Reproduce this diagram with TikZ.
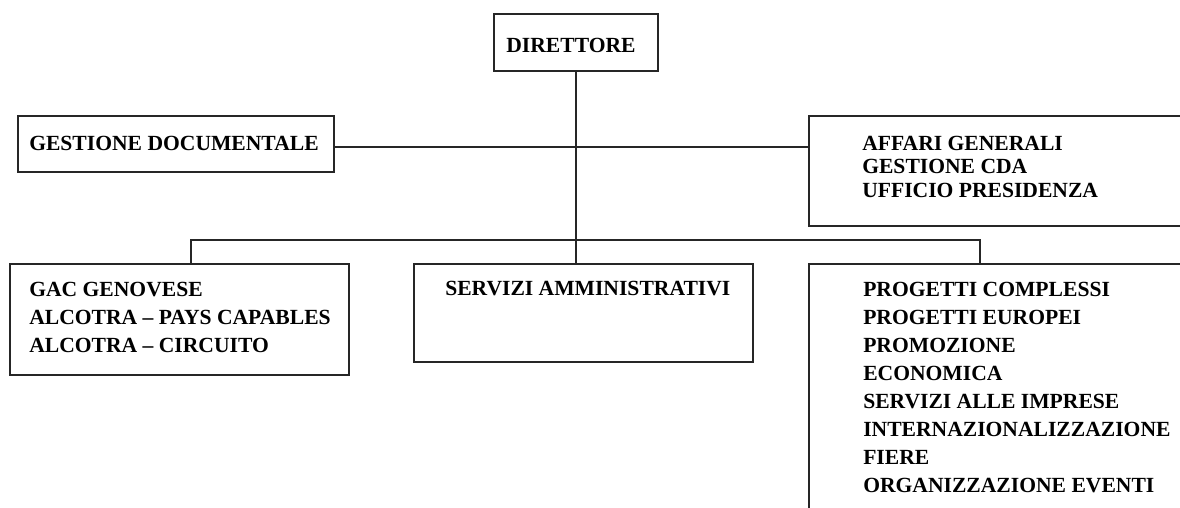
\documentclass[tikz,border=0pt]{standalone}
\usepackage{fontspec}
\setmainfont{Liberation Serif}
\begin{document}
\begin{tikzpicture}[x=0.75pt,y=-0.75pt,
  box/.style={draw=black!85,line width=1.3pt,inner sep=0pt,anchor=north west},
  conn/.style={draw=black!85,line width=1.2pt},
  lbl/.style={inner sep=0pt,anchor=base west,align=left,font=\bfseries\fontsize{16.2}{21}\selectfont},
  lblb/.style={lbl,font=\bfseries\fontsize{16.2}{17.6}\selectfont}]
\clip (0,0) rectangle (1180,507);
\fill[white] (0,0) rectangle (1180,507);
% boxes
\node[box,minimum width=164*0.75pt,minimum height=57*0.75pt] (dir) at (493,13) {};
\node[box,minimum width=316*0.75pt,minimum height=56*0.75pt] (gd) at (17,115) {};
\node[box,minimum width=450*0.75pt,minimum height=110*0.75pt] (ag) at (808,115) {};
\node[box,minimum width=339*0.75pt,minimum height=111*0.75pt] (gac) at (9,263) {};
\node[box,minimum width=339*0.75pt,minimum height=98*0.75pt] (sa) at (413,263) {};
\node[box,minimum width=450*0.75pt,minimum height=300*0.75pt] (pc) at (808,263) {};
% texts (anchor = baseline of last line)
\node[lbl,anchor=base] (tdir) at (571,52) {DIRETTORE};
\node[lbl] (tgd) at (29,150) {GESTIONE DOCUMENTALE};
\node[lblb] (tag) at (862,197) {AFFARI GENERALI\\GESTIONE CDA\\UFFICIO PRESIDENZA};
\node[lbl] (tgac) at (29,352) {GAC GENOVESE\\ALCOTRA -- PAYS CAPABLES\\ALCOTRA -- CIRCUITO};
\node[lbl] (tsa) at (445,295) {SERVIZI AMMINISTRATIVI};
\node[lbl] (tpc) at (863,492) {PROGETTI COMPLESSI\\PROGETTI EUROPEI\\PROMOZIONE\\ECONOMICA\\SERVIZI ALLE IMPRESE\\INTERNAZIONALIZZAZIONE\\FIERE\\ORGANIZZAZIONE EVENTI};
% connectors
\coordinate (hl) at (0,147);
\coordinate (bl) at (191,240);
\coordinate (br) at (980,240);
\draw[conn] (dir.south) -- (dir.south |- sa.north);
\draw[conn] (gd.east |- hl) -- (ag.west |- hl);
\draw[conn] (bl |- gac.north) -- (bl) -- (br) -- (br |- pc.north);
\end{tikzpicture}
\end{document}
